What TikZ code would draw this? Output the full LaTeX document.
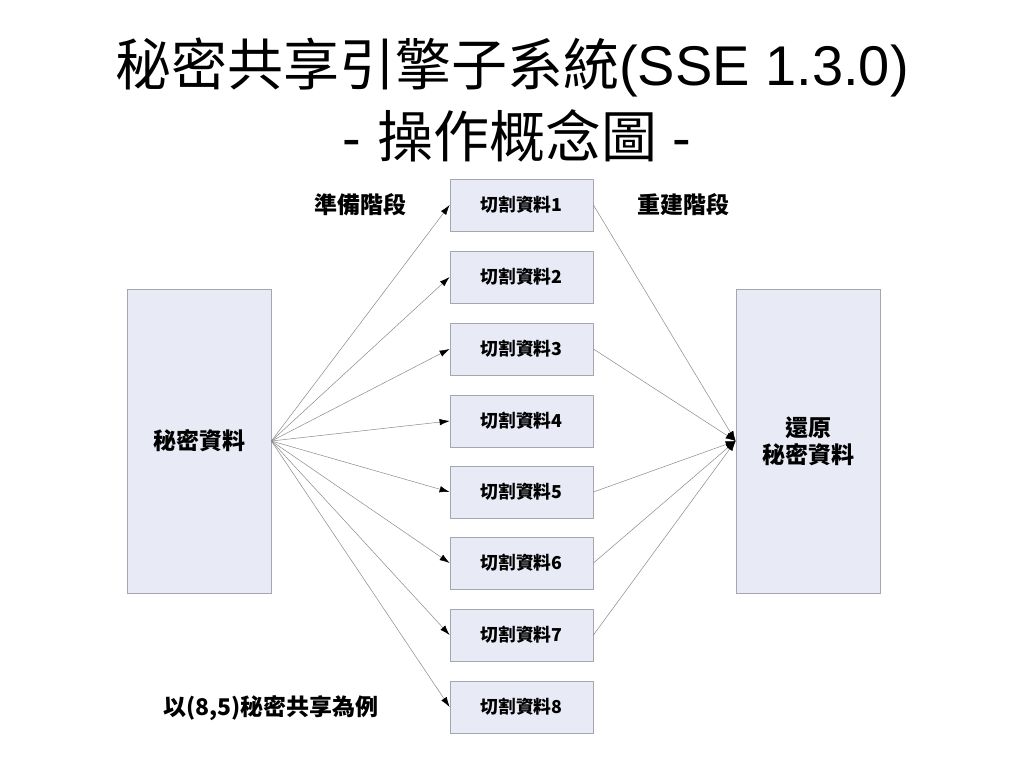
\documentclass[tikz,border=0pt]{standalone}
\usepackage{fontspec}
\setmainfont{Noto Sans CJK TC}
\newfontfamily\cjk{Noto Sans CJK TC}
\newfontfamily\arial{Liberation Sans}
\usetikzlibrary{arrows.meta}
\definecolor{boxfill}{HTML}{E8EAF5}
\definecolor{boxline}{HTML}{A4A6B0}
\definecolor{linkgray}{HTML}{8A8A8A}
\tikzset{
  part/.style={draw=boxline, fill=boxfill, line width=0.8pt, minimum width=143pt, minimum height=52pt, inner sep=0pt, font=\fontsize{17.8}{19}\selectfont\bfseries},
  big/.style={draw=boxline, fill=boxfill, line width=0.8pt, minimum width=144pt, minimum height=304pt, inner sep=0pt, align=center, font=\fontsize{23}{27}\selectfont\bfseries},
  lbl/.style={font=\fontsize{23}{25}\selectfont\bfseries, inner sep=0pt},
  link/.style={draw=linkgray, line width=0.5pt, -{Latex[length=10pt,width=6.5pt,color=black]}}
}
\begin{document}
\begin{tikzpicture}[x=1pt,y=-1pt]
\fill[white] (0,0) rectangle (1024,768);
\useasboundingbox (0,0) rectangle (1024,768);
\node[inner sep=0pt, font=\fontsize{56}{60}\selectfont] (t1) at (512,67) {\cjk 秘密共享引擎子系統\arial(SSE 1.3.0)};
\node[inner sep=0pt, font=\fontsize{56}{60}\selectfont] (t2) at (517,136) {\arial- \cjk 操作概念圖\arial{} -};
\node[big] (S) at (199,441) {秘密資料};
\node[big] (R) at (808,441) {還原\\秘密資料};
\foreach \i/\y in {1/205,2/277,3/349,4/421,5/492,6/563,7/635,8/707}{
  \node[part] (p\i) at (521.5,\y) {切割資料\i};
  \draw[link] (S.east) -- (p\i.west);
}
\foreach \i in {1,3,5,6,7}{
  \draw[link] (p\i.east) -- (R.west);
}
\node[lbl] (a) at (360,205) {準備階段};
\node[lbl] (b) at (683,205) {重建階段};
\node[lbl] (c) at (271,708) {以(8,5)秘密共享為例};
\end{tikzpicture}
\end{document}
